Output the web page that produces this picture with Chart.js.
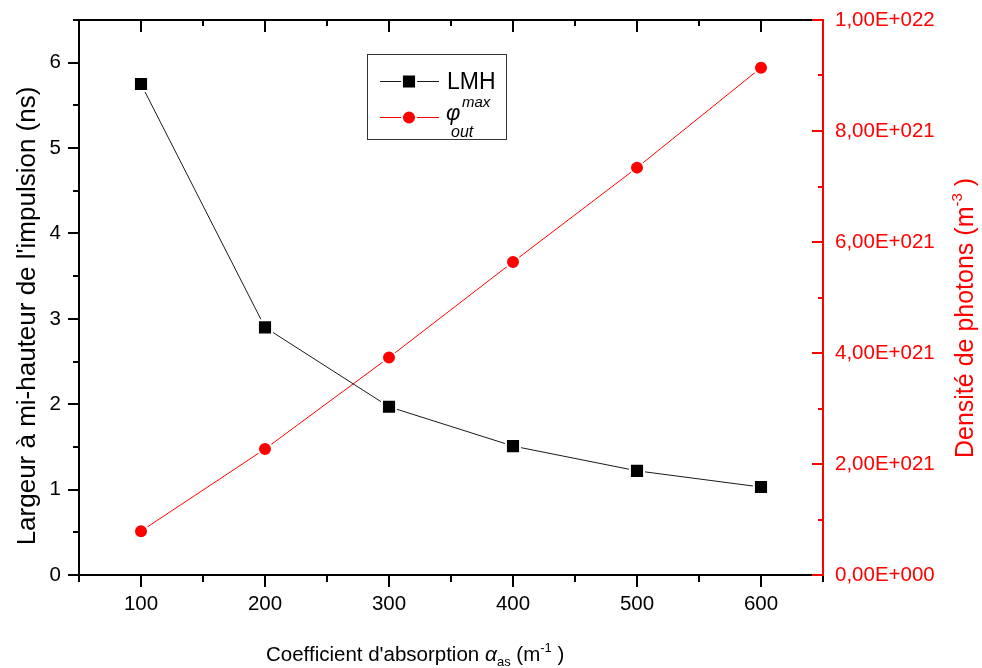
<!DOCTYPE html>
<html>
<head>
<meta charset="utf-8">
<title>LMH / densité de photons</title>
<script src="https://cdn.jsdelivr.net/npm/chart.js@4.4.1/dist/chart.umd.min.js"></script>
<style>
  html, body { margin: 0; padding: 0; background: #fff; }
  #wrap { position: relative; width: 982px; height: 668px; }
</style>
</head>
<body>
<div id="wrap"><canvas id="chart1"></canvas></div>
<script>
"use strict";

// absorption coefficient (m-1)
var alphaAs = [100, 200, 300, 400, 500, 600];
// pulse FWHM (ns)
var lmh = [5.75, 2.90, 1.97, 1.51, 1.22, 1.03];
// peak output photon density (m-3)
var phiMax = [0.79e21, 2.27e21, 3.92e21, 5.64e21, 7.34e21, 9.14e21];

var xTicks = [100, 200, 300, 400, 500, 600];
var yTicks = [0, 1, 2, 3, 4, 5, 6];
var y1Ticks = [0, 2e21, 4e21, 6e21, 8e21, 1e22];

var RED = '#ff0000';
var FONT = '"Liberation Sans", Arial, sans-serif';

function sci(v) {
  if (v === 0) return '0,00E+000';
  var e = Math.floor(Math.log10(v) + 1e-9);
  var m = v / Math.pow(10, e);
  return m.toFixed(2).replace('.', ',') + 'E+' + String(e).padStart(3, '0');
}

function fixTicks(list) {
  return function (scale) {
    scale.ticks = list.map(function (v) { return { value: v }; });
  };
}

// fixed axis box sizes, no extra room for label overflow
function fitWidth(w) {
  return function (s) {
    s.width = w;
    s.paddingTop = 0;
    s.paddingBottom = 0;
  };
}

function fitHeight(h) {
  return function (s) {
    s.height = h;
    s.paddingLeft = 0;
    s.paddingRight = 0;
  };
}

// draws a row of text pieces (sub/superscripts) starting at x
function drawRuns(ctx, runs, x, y) {
  runs.forEach(function (r) {
    ctx.font = r.font;
    ctx.fillText(r.text, x, y + (r.dy || 0));
    x += ctx.measureText(r.text).width;
  });
}

function runsWidth(ctx, runs) {
  var w = 0;
  runs.forEach(function (r) {
    ctx.font = r.font;
    w += ctx.measureText(r.text).width;
  });
  return w;
}

// frame, tick marks, axis titles and legend
var decor = {
  id: 'decor',
  afterDraw: function (chart) {
    var ctx = chart.ctx;
    var a = chart.chartArea;
    var sx = chart.scales.x, sy = chart.scales.y, sy1 = chart.scales.y1;
    var v, p, major;

    ctx.save();
    ctx.lineWidth = 2;
    ctx.lineCap = 'butt';

    // black frame (left, top, bottom)
    ctx.strokeStyle = '#000';
    ctx.beginPath();
    ctx.moveTo(a.left, a.bottom); ctx.lineTo(a.left, a.top - 1);
    ctx.moveTo(a.left - 1, a.top); ctx.lineTo(a.right, a.top);
    ctx.moveTo(a.left - 1, a.bottom); ctx.lineTo(a.right, a.bottom);
    ctx.stroke();

    // x ticks: outward at bottom, inward at top
    ctx.beginPath();
    for (v = 50; v <= 650; v += 50) {
      p = Math.round(sx.getPixelForValue(v));
      major = v % 100 === 0;
      ctx.moveTo(p, a.bottom); ctx.lineTo(p, a.bottom + (major ? 12 : 7));
      if (v > 50 && v < 650) {
        ctx.moveTo(p, a.top); ctx.lineTo(p, a.top + (major ? 12 : 6));
      }
    }
    // left y ticks, outward
    for (v = 0; v <= 6.5; v += 0.5) {
      p = Math.round(sy.getPixelForValue(v));
      major = v % 1 === 0;
      ctx.moveTo(a.left, p); ctx.lineTo(a.left - (major ? 11 : 6), p);
    }
    ctx.stroke();

    // right axis in red, ticks pointing inward
    ctx.strokeStyle = RED;
    ctx.beginPath();
    ctx.moveTo(a.right, a.top - 1); ctx.lineTo(a.right, a.bottom + 1);
    for (v = 0; v <= 10; v += 1) {
      p = Math.round(sy1.getPixelForValue(v * 1e21));
      major = v % 2 === 0;
      ctx.moveTo(a.right, p); ctx.lineTo(a.right - (major ? 11 : 5), p);
    }
    ctx.stroke();

    // axis titles
    ctx.textAlign = 'left';
    ctx.textBaseline = 'alphabetic';
    ctx.fillStyle = '#000';
    var xt = [
      { text: "Coefficient d'absorption ", font: '20.5px ' + FONT },
      { text: '\u03b1', font: 'italic 21px ' + FONT },
      { text: 'as', font: '13px ' + FONT, dy: 5 },
      { text: ' (m', font: '20.5px ' + FONT },
      { text: '-1', font: '13px ' + FONT, dy: -9 },
      { text: ' )', font: '20.5px ' + FONT }
    ];
    drawRuns(ctx, xt, 266, 661);

    ctx.save();
    ctx.translate(35, 316);
    ctx.rotate(-Math.PI / 2);
    var lt = [{ text: "Largeur \u00e0 mi-hauteur de l'impulsion (ns)", font: '26px ' + FONT }];
    drawRuns(ctx, lt, -runsWidth(ctx, lt) / 2, 0);
    ctx.restore();

    ctx.save();
    ctx.fillStyle = RED;
    ctx.translate(973, 318);
    ctx.rotate(-Math.PI / 2);
    var rt = [
      { text: 'Densit\u00e9 de photons (m', font: '25px ' + FONT },
      { text: '-3', font: '15px ' + FONT, dy: -11 },
      { text: ' )', font: '25px ' + FONT }
    ];
    drawRuns(ctx, rt, -runsWidth(ctx, rt) / 2, 0);
    ctx.restore();

    // legend box
    ctx.lineWidth = 1;
    ctx.strokeStyle = '#333';
    ctx.strokeRect(367.5, 54.5, 139, 85);

    var rows = [
      { ds: chart.data.datasets[0], y: 81 },
      { ds: chart.data.datasets[1], y: 117 }
    ];
    rows.forEach(function (r) {
      ctx.strokeStyle = r.ds.borderColor;
      ctx.lineWidth = 1;
      ctx.beginPath();
      ctx.moveTo(380, r.y + 0.5); ctx.lineTo(439, r.y + 0.5);
      ctx.stroke();
      ctx.fillStyle = r.ds.pointBackgroundColor;
      ctx.strokeStyle = r.ds.pointBorderColor;
      ctx.lineWidth = r.ds.pointBorderWidth;
      Chart.helpers.drawPoint(ctx, {
        pointStyle: r.ds.pointStyle,
        radius: r.ds.pointRadius,
        borderWidth: r.ds.pointBorderWidth,
        rotation: 0
      }, 409, r.y + 0.5);
    });

    ctx.fillStyle = '#000';
    ctx.font = '23px ' + FONT;
    ctx.fillText('LMH', 447, 89);
    ctx.font = 'italic 22px ' + FONT;
    ctx.fillText('\u03c6', 446, 120);
    ctx.font = 'italic 15px ' + FONT;
    ctx.fillText('max', 462, 107);
    ctx.font = 'italic 16px ' + FONT;
    ctx.fillText('out', 451, 137);

    ctx.restore();
  }
};

var ctx = document.getElementById('chart1').getContext('2d');

var myChart = new Chart(ctx, {
  type: 'line',
  data: {
    datasets: [{
      label: 'LMH',
      data: alphaAs.map(function (x, i) { return { x: x, y: lmh[i] }; }),
      yAxisID: 'y',
      borderColor: '#1a1a1a',
      borderWidth: 1,
      pointStyle: 'rect',
      pointRadius: 10,
      pointHoverRadius: 10,
      pointBackgroundColor: '#000',
      pointBorderColor: '#fff',
      pointBorderWidth: 2,
      tension: 0
    }, {
      label: 'phi max out',
      data: alphaAs.map(function (x, i) { return { x: x, y: phiMax[i] }; }),
      yAxisID: 'y1',
      borderColor: RED,
      borderWidth: 1,
      pointStyle: 'circle',
      pointRadius: 7,
      pointHoverRadius: 7,
      pointBackgroundColor: RED,
      pointBorderColor: '#fff',
      pointBorderWidth: 2,
      tension: 0
    }]
  },
  options: {
    responsive: true,
    maintainAspectRatio: false,
    animation: false,
    layout: { padding: { top: 20, left: 0, right: 0, bottom: 0 } },
    plugins: {
      legend: { display: false },
      tooltip: { enabled: false }
    },
    scales: {
      x: {
        type: 'linear',
        position: 'bottom',
        min: 50,
        max: 650,
        afterBuildTicks: fixTicks(xTicks),
        afterFit: fitHeight(93),
        grid: { display: false, drawTicks: false },
        border: { display: false },
        ticks: {
          padding: 17,
          color: '#000',
          font: { family: FONT, size: 20.5 },
          maxRotation: 0,
          callback: function (v) { return String(v); }
        }
      },
      y: {
        type: 'linear',
        position: 'left',
        min: 0,
        max: 6.5,
        afterBuildTicks: fixTicks(yTicks),
        afterFit: fitWidth(79),
        grid: { display: false, drawTicks: false },
        border: { display: false },
        ticks: {
          padding: 18,
          color: '#000',
          font: { family: FONT, size: 20.5 },
          callback: function (v) { return String(v); }
        }
      },
      y1: {
        type: 'linear',
        position: 'right',
        min: 0,
        max: 1e22,
        afterBuildTicks: fixTicks(y1Ticks),
        afterFit: fitWidth(159),
        grid: { display: false, drawTicks: false },
        border: { display: false },
        ticks: {
          padding: 12,
          color: RED,
          font: { family: FONT, size: 20.5 },
          callback: function (v) { return sci(v); }
        }
      }
    }
  },
  plugins: [decor]
});
</script>
</body>
</html>
